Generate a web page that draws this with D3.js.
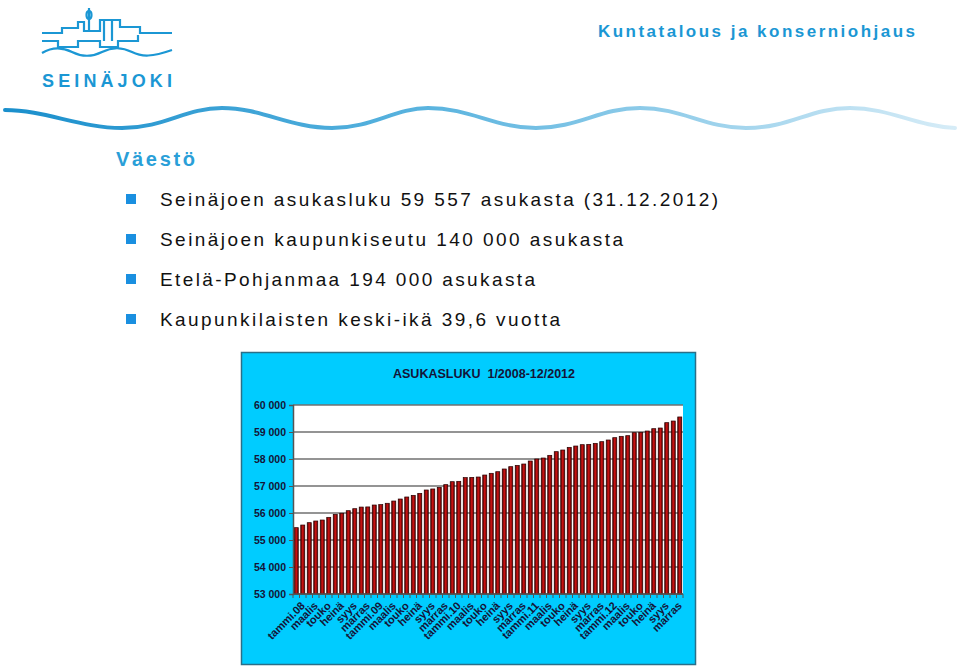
<!DOCTYPE html>
<html><head><meta charset="utf-8">
<script src="https://cdn.jsdelivr.net/npm/d3@7"></script>
<style>html,body{margin:0;padding:0;background:#fff;}svg{display:block;}</style>
</head><body>
<script>
// ---- data ----
const months = ["tammi","helmi","maalis","huhti","touko","kesä","heinä","elo","syys","loka","marras","joulu"];
const years = ["08","09","10","11","12"];
const categories = [];
years.forEach(y => months.forEach((m,i) => categories.push(i===0 ? m+"."+y : m)));
const population = [
 55457,55555,55642,55704,55740,55840,55950,55990,56086,56160,56220,56225,
 56296,56310,56360,56444,56518,56593,56654,56728,56852,56890,56950,57050,
 57160,57173,57310,57320,57333,57407,57470,57530,57630,57716,57765,57815,
 57926,58000,58037,58136,58272,58333,58432,58481,58531,58543,58580,58642,
 58704,58790,58840,58864,58975,58988,59037,59123,59148,59346,59407,59557
];
const yTicks = [53000,54000,55000,56000,57000,58000,59000,60000];
const chartTitle = "ASUKASLUKU  1/2008-12/2012";
const bullets = [
 "Seinäjoen asukasluku 59 557 asukasta (31.12.2012)",
 "Seinäjoen kaupunkiseutu 140 000 asukasta",
 "Etelä-Pohjanmaa 194 000 asukasta",
 "Kaupunkilaisten keski-ikä 39,6 vuotta"
];
const bulletWidths = [558, 463, 375, 400];

const W = 960, H = 666;
const svg = d3.select("body").append("svg").attr("width", W).attr("height", H);
const defs = svg.append("defs");
const FONT = "Liberation Sans, Arial, sans-serif";

// ---- header ----
const blue = "#1b97d4";
const waveGrad = defs.append("linearGradient").attr("id","waveGrad");
waveGrad.append("stop").attr("offset","0%").attr("stop-color","#1a8fcc");
waveGrad.append("stop").attr("offset","45%").attr("stop-color","#5bb4df");
waveGrad.append("stop").attr("offset","100%").attr("stop-color","#d6ecf7");
svg.append("path")
  .attr("d","M5,110 C45,110 80,128 122,128 C165,128 185,108 222,108 C262,108 290,128 332,128 C372,128 395,108 428,108 C470,108 495,128 536,128 C578,128 600,108 640,108 C682,108 705,128 746,128 C790,128 810,108 850,108 C890,108 915,126 955,128")
  .attr("fill","none").attr("stroke","url(#waveGrad)").attr("stroke-width",4).attr("stroke-linecap","round");

// logo
const logo = svg.append("g").attr("fill","none").attr("stroke",blue).attr("stroke-width",2.2);
logo.append("path").attr("d","M42,33 H62 V28 H78 V22 H84 V31 H100 V20 H120 V27 H140 V33 H172");
logo.append("path").attr("d","M42,41 H58 V47 H78 V41 H100 V47 H118 V41 H138 V35");
logo.append("path").attr("d","M104,20 V41 M112,20 V41");
logo.append("path").attr("d","M89,8 V31");
logo.append("ellipse").attr("cx",89).attr("cy",15).attr("rx",2.5).attr("ry",4);
logo.append("path").attr("d","M42,53 C52,47 62,47 72,52 C82,57 92,57 102,52 C112,47 122,47 132,52 C142,57 152,57 172,50");
svg.append("text").attr("x",42).attr("y",87).attr("font-family",FONT)
  .style("font-weight","bold").attr("font-size",18).attr("fill",blue)
  .attr("textLength",130).attr("lengthAdjust","spacing").text("SEINÄJOKI");

svg.append("text").attr("x",598).attr("y",37).attr("font-family","Liberation Sans Narrow, "+FONT)
  .style("font-weight","bold").attr("font-size",17).attr("fill",blue)
  .attr("textLength",317).attr("lengthAdjust","spacing").text("Kuntatalous ja konserniohjaus");

svg.append("text").attr("x",116).attr("y",166).attr("font-family",FONT)
  .style("font-weight","bold").attr("font-size",20).attr("fill","#2a9fd8")
  .attr("textLength",79).attr("lengthAdjust","spacing").text("Väestö");

bullets.forEach((t,i) => {
  const by = 206 + i*40;
  svg.append("rect").attr("x",126).attr("y",by-12).attr("width",10).attr("height",10).attr("fill","#1a8fe0");
  svg.append("text").attr("x",160).attr("y",by).attr("font-family",FONT)
    .attr("font-size",19).attr("fill","#111")
    .attr("textLength",bulletWidths[i]).attr("lengthAdjust","spacing").text(t);
});

// ---- chart ----
svg.append("rect").attr("x",241.5).attr("y",352.5).attr("width",454).attr("height",312)
  .attr("fill","#00ccff").attr("stroke","#2a6f88").attr("stroke-width",1.5);

const m = {left:293, right:683, top:405, bottom:594};
const idx = d3.range(categories.length);
const x = d3.scaleBand().domain(idx).range([m.left, m.right]).paddingInner(0.38).paddingOuter(0.19);
const y = d3.scaleLinear().domain([53000,60000]).range([m.bottom, m.top]);

svg.append("rect").attr("x",m.left).attr("y",m.top).attr("width",m.right-m.left).attr("height",m.bottom-m.top).attr("fill","#fff");

svg.append("g").selectAll("line").data(yTicks).join("line")
  .attr("x1",m.left).attr("x2",m.right).attr("y1",d=>y(d)).attr("y2",d=>y(d))
  .attr("stroke","#707070").attr("stroke-width",1.5);

svg.append("text").attr("x",484).attr("y",378).attr("text-anchor","middle")
  .attr("font-family",FONT).style("font-weight","bold").attr("font-size",12.5)
  .attr("fill","#141438").attr("xml:space","preserve").text(chartTitle);

const barGrad = defs.append("linearGradient").attr("id","barGrad").attr("x1","0").attr("x2","1").attr("y1","0").attr("y2","0");
barGrad.append("stop").attr("offset","0%").attr("stop-color","#4a0000");
barGrad.append("stop").attr("offset","50%").attr("stop-color","#d41414");
barGrad.append("stop").attr("offset","100%").attr("stop-color","#5a0000");

svg.append("g").selectAll("rect").data(population).join("rect")
  .attr("x",(d,i)=>x(i)).attr("width",x.bandwidth())
  .attr("y",d=>y(d)).attr("height",d=>m.bottom-y(d))
  .attr("fill","url(#barGrad)").attr("stroke","#2a0000").attr("stroke-width",0.7);

// y axis
const yAxis = svg.append("g").attr("transform",`translate(${m.left},0)`)
  .call(d3.axisLeft(y).tickValues(yTicks).tickSize(4).tickFormat(d => d3.format(",")(d).replace(",", " ")));
yAxis.attr("font-family",FONT).attr("font-size",10.5);
yAxis.select(".domain").attr("stroke","#555").attr("stroke-width",1.5);
yAxis.selectAll(".tick line").attr("stroke","#555");
yAxis.selectAll("text").attr("fill","#141438").attr("x",-7).style("font-weight","bold");

// x axis
const xAxis = svg.append("g").attr("transform",`translate(0,${m.bottom})`);
xAxis.append("line").attr("x1",m.left).attr("x2",m.right).attr("stroke","#555").attr("stroke-width",1.5);
xAxis.selectAll("line.t").data(d3.range(categories.length+1)).join("line").attr("class","t")
  .attr("x1",i=>m.left+i*(m.right-m.left)/categories.length).attr("x2",i=>m.left+i*(m.right-m.left)/categories.length)
  .attr("y1",0).attr("y2",4).attr("stroke","#555");
xAxis.selectAll("text").data(idx.filter(i=>i%2===0)).join("text")
  .attr("transform",i=>`translate(${x(i)+x.bandwidth()/2+4},${7}) rotate(-45)`)
  .attr("text-anchor","end").attr("dy","0.7em")
  .attr("font-family",FONT).style("font-weight","bold").attr("font-size",11)
  .attr("fill","#141438").text(i=>categories[i]);
</script>
</body></html>
